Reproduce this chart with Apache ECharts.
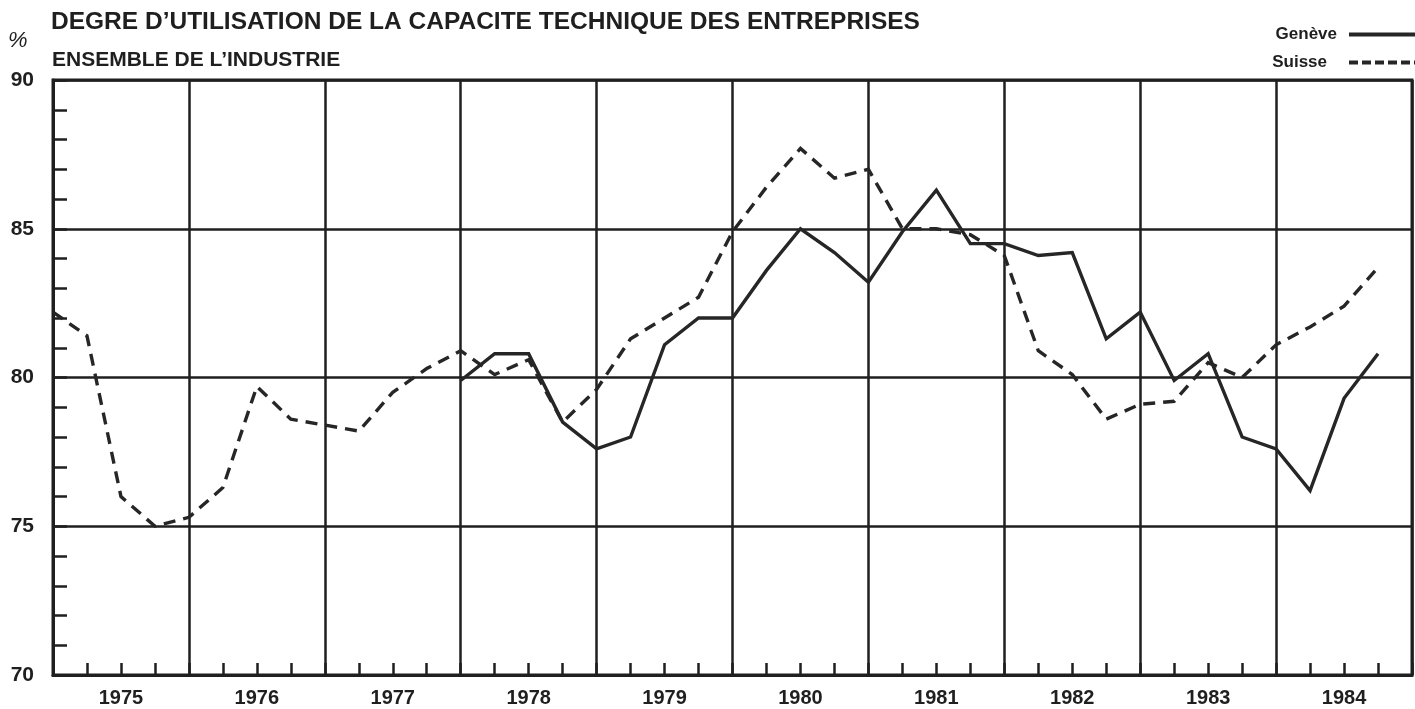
<!DOCTYPE html>
<html>
<head>
<meta charset="utf-8">
<script src="https://cdn.jsdelivr.net/npm/echarts@6/dist/echarts.min.js"></script>
<style>
  html, body { margin: 0; padding: 0; background: #ffffff; }
  #chart { width: 1415px; height: 709px; }
</style>
</head>
<body>
<div id="chart"></div>
<script>
// ---- Data ----
const titleText = "DEGRE D\u2019UTILISATION DE LA CAPACITE TECHNIQUE DES ENTREPRISES";
const subtitleText = "ENSEMBLE DE L\u2019INDUSTRIE";
const unitText = "%";
const years = ['1975', '1976', '1977', '1978', '1979', '1980', '1981', '1982', '1983', '1984'];
const quartersPerYear = 4;
const yTicks = { min: 70, max: 90, step: 5 };

// quarterly values, index 0 = beginning of 1975
const suisse = [
  82.2, 81.4, 76.0, 75.0,
  75.3, 76.3, 79.7, 78.6,
  78.4, 78.2, 79.5, 80.3,
  80.9, 80.1, 80.6, 78.5,
  79.6, 81.3, 82.0, 82.7,
  84.9, 86.4, 87.7, 86.7,
  87.0, 85.0, 85.0, 84.8,
  84.1, 80.9, 80.1, 78.6,
  79.1, 79.2, 80.5, 80.0,
  81.1, 81.7, 82.4, 83.7
];
const geneve = [
  null, null, null, null,
  null, null, null, null,
  null, null, null, null,
  79.9, 80.8, 80.8, 78.5,
  77.6, 78.0, 81.1, 82.0,
  82.0, 83.6, 85.0, 84.2,
  83.2, 84.9, 86.3, 84.5,
  84.5, 84.1, 84.2, 81.3,
  82.2, 79.9, 80.8, 78.0,
  77.6, 76.2, 79.3, 80.8
];

// ---- Chart ----
const FONT = "'Liberation Sans', Arial, Helvetica, sans-serif";
const INK = '#1f1f1f';
const nQuarters = years.length * quartersPerYear;

const chart = echarts.init(document.getElementById('chart'), null, { renderer: 'canvas' });

chart.setOption({
  animation: false,
  backgroundColor: '#ffffff',
  textStyle: { fontFamily: FONT, color: INK },
  title: [
    { text: titleText, left: 51, top: 10, padding: 0,
      textStyle: { fontFamily: FONT, fontSize: 24.5, fontWeight: 'bold', color: INK } },
    { text: subtitleText, left: 52, top: 50, padding: 0,
      textStyle: { fontFamily: FONT, fontSize: 21, fontWeight: 'bold', color: INK } },
    { text: unitText, left: 8, top: 30, padding: 0,
      textStyle: { fontFamily: FONT, fontSize: 22, fontWeight: 'normal', fontStyle: 'italic', color: INK } }
  ],
  legend: {
    orient: 'vertical',
    right: -6,
    top: 26,
    align: 'right',
    itemWidth: 70,
    itemHeight: 14,
    itemGap: 11,
    padding: 0,
    itemStyle: { opacity: 0 },
    lineStyle: { width: 4 },
    data: [
      { name: 'Genève', textStyle: { padding: [0, 7, 0, 0] } },
      { name: 'Suisse', textStyle: { padding: [0, 17, 0, 0] }, lineStyle: { width: 4, type: [9, 4] } }
    ],
    textStyle: { fontFamily: FONT, fontSize: 17, fontWeight: 'bold', color: INK }
  },
  grid: {
    left: 53, right: 3, top: 80, bottom: 34,
    show: true, borderColor: INK, borderWidth: 3,
    containLabel: false,
    outerBoundsMode: 'none'
  },
  xAxis: [
    {
      type: 'category',
      data: years,
      boundaryGap: true,
      position: 'bottom',
      axisLine: { show: false },
      axisTick: { show: false },
      splitLine: { show: false },
      axisLabel: { fontFamily: FONT, fontSize: 20, fontWeight: 'bold', color: INK, margin: 13 }
    },
    {
      type: 'value',
      min: 0,
      max: nQuarters,
      interval: quartersPerYear,
      position: 'bottom',
      axisLine: { show: true, lineStyle: { color: INK, width: 3 } },
      axisTick: { show: true, inside: true, length: 12, lineStyle: { color: INK, width: 2.5 } },
      minorTick: { show: true, splitNumber: quartersPerYear, length: 12, lineStyle: { color: INK, width: 2.5 } },
      axisLabel: { show: false },
      splitLine: { show: true, lineStyle: { color: INK, width: 2.5 } }
    }
  ],
  yAxis: {
    type: 'value',
    min: yTicks.min,
    max: yTicks.max,
    interval: yTicks.step,
    axisLine: { show: true, lineStyle: { color: INK, width: 3 } },
    axisTick: { show: true, inside: true, length: 14, lineStyle: { color: INK, width: 2.5 } },
    minorTick: { show: true, splitNumber: 5, length: 14, lineStyle: { color: INK, width: 2.5 } },
    axisLabel: { fontFamily: FONT, fontSize: 21, fontWeight: 'bold', color: INK, margin: 19 },
    splitLine: { show: true, lineStyle: { color: INK, width: 2.5 } }
  },
  series: [
    {
      name: 'Genève',
      type: 'line',
      xAxisIndex: 1,
      data: geneve.map((v, i) => [i, v]),
      symbol: 'none',
      connectNulls: false,
      lineStyle: { color: '#262626', width: 3.4, type: 'solid', join: 'miter' },
      itemStyle: { color: '#262626' },
      z: 5
    },
    {
      name: 'Suisse',
      type: 'line',
      xAxisIndex: 1,
      data: suisse.map((v, i) => [i, v]),
      symbol: 'none',
      lineStyle: { color: '#262626', width: 3.4, type: [12, 8], join: 'miter' },
      itemStyle: { color: '#262626' },
      z: 4
    }
  ]
});
</script>
</body>
</html>
